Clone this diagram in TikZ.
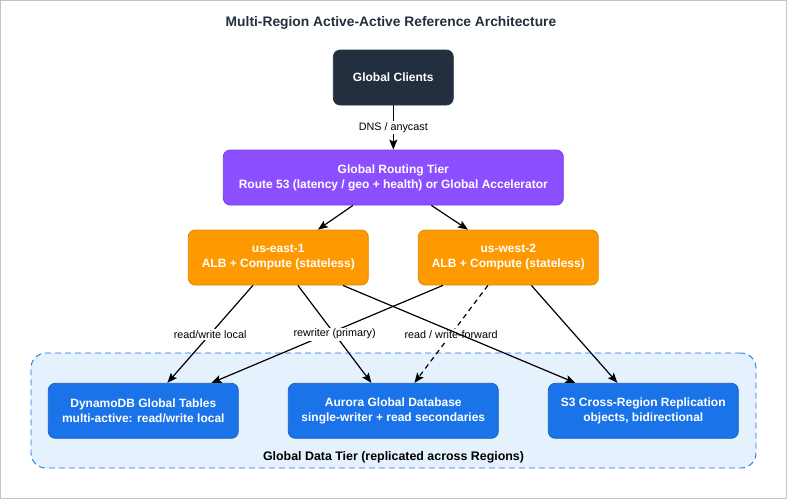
\documentclass[tikz,border=0pt]{standalone}
\usepackage{fontspec}
\setmainfont{Liberation Sans}
\usetikzlibrary{arrows.meta}
\definecolor{ink}{HTML}{232F3E}
\definecolor{purp}{HTML}{8C4FFF}
\definecolor{purpd}{HTML}{7438E0}
\definecolor{orng}{HTML}{FF9900}
\definecolor{orngd}{HTML}{E08600}
\definecolor{blu}{HTML}{1A73E8}
\definecolor{blud}{HTML}{1660C4}
\definecolor{tierfill}{HTML}{E5F1FC}
\definecolor{frame}{HTML}{C4C4C4}
\tikzset{
  box/.style={rounded corners=7pt, inner sep=0pt, minimum height=55pt, align=center,
    text=white, font=\fontsize{12}{15}\selectfont\bfseries, line width=0.8pt},
  clientbox/.style={box, fill=ink, draw=ink},
  routebox/.style={box, fill=purp, draw=purpd},
  regionbox/.style={box, fill=orng, draw=orngd},
  databox/.style={box, fill=blu, draw=blud},
  conn/.style={line width=1.2pt, -{Stealth[length=10pt,width=8pt,inset=2pt]}},
  elabel/.style={fill=white, inner sep=1.5pt, font=\fontsize{10.8}{13}\selectfont, text=black},
}
\begin{document}
\begin{tikzpicture}[x=1pt,y=-1pt]
\useasboundingbox (0,0) rectangle (787,499);
\draw[frame, line width=1pt] (0.5,0.5) rectangle (786.5,498.5);
\node[font=\fontsize{13.8}{16}\selectfont\bfseries, text=ink] (title) at (391,23) {Multi-Region Active-Active Reference Architecture};

\node[draw=blu, dashed, dash pattern=on 6pt off 4pt, line width=0.9pt, fill=tierfill, rounded corners=15pt,
  minimum width=725pt, minimum height=115pt, inner sep=0pt] (tier) at (393.5,410.5) {};
\node[font=\fontsize{12.4}{14}\selectfont\bfseries, text=black] (tierlabel) at (393.5,457.5) {Global Data Tier (replicated across Regions)};

\node[clientbox, minimum width=120pt] (clients) at (393.3,77.5) {Global Clients};
\node[routebox, minimum width=340pt] (route) at (393.3,177.5) {Global Routing Tier\\Route 53 (latency / geo + health) or Global Accelerator};
\node[regionbox, minimum width=180pt] (east) at (278.3,257.5) {us-east-1\\ALB + Compute (stateless)};
\node[regionbox, minimum width=180pt] (west) at (508.3,257.5) {us-west-2\\ALB + Compute (stateless)};
\node[databox, minimum width=190pt] (ddb) at (143.3,410.8) {DynamoDB Global Tables\\multi-active: read/write local};
\node[databox, minimum width=210pt] (aurora) at (393.3,410.8) {Aurora Global Database\\single-writer + read secondaries};
\node[databox, minimum width=190pt] (s3) at (643.3,410.8) {S3 Cross-Region Replication\\objects, bidirectional};

\draw[conn] (clients.south) -- node[elabel] {DNS / anycast} (route.north);
\draw[conn] ([xshift=130pt]route.south west) -- ([xshift=130pt]east.north west);
\draw[conn] ([xshift=208.5pt]route.south west) -- ([xshift=50pt]west.north west);

\draw[conn] ([xshift=25pt]west.south west) -- ([xshift=163.5pt]ddb.north west);
\draw[conn] ([xshift=65pt]east.south west) -- node[elabel] {read/write local} ([xshift=119.5pt]ddb.north west);
\draw[conn] ([xshift=110pt]east.south west) -- node[elabel] {rewriter (primary)} ([xshift=83.5pt]aurora.north west);
\draw[conn, dash pattern=on 5pt off 4pt] ([xshift=70pt]west.south west) -- node[elabel] {read / write-forward} ([xshift=126.5pt]aurora.north west);
\draw[conn] ([xshift=155pt]east.south west) -- ([xshift=27.5pt]s3.north west);
\draw[conn] ([xshift=113.5pt]west.south west) -- ([xshift=69.5pt]s3.north west);
\end{tikzpicture}
\end{document}
